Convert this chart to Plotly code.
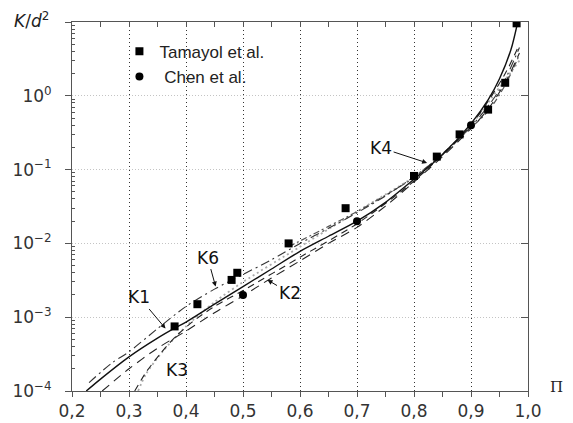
import plotly.graph_objects as go

# ---- data ----
tam_x = [0.38, 0.42, 0.48, 0.49, 0.58, 0.68, 0.80, 0.84, 0.88, 0.93, 0.96, 0.98]
tam_y = [7.5e-4, 1.5e-3, 3.2e-3, 4.0e-3, 1.0e-2, 3.0e-2, 8.2e-2, 0.15, 0.30, 0.65, 1.5, 9.6]
chen_x = [0.50, 0.70, 0.90]
chen_y = [2.0e-3, 2.0e-2, 0.40]

k1_x = [0.225, 0.25, 0.30, 0.35, 0.38, 0.40, 0.45, 0.50, 0.55, 0.60, 0.65, 0.70, 0.75, 0.80, 0.85, 0.90, 0.93, 0.95, 0.97, 0.982]
k1_y = [1e-4, 1.45e-4, 2.9e-4, 5.2e-4, 7.1e-4, 8.6e-4, 1.5e-3, 2.6e-3, 4.5e-3, 7.8e-3, 1.25e-2, 2.0e-2, 3.6e-2, 7.4e-2, 0.16, 0.42, 0.88, 1.7, 4.2, 10.0]

k2_x = [0.253, 0.30, 0.35, 0.40, 0.45, 0.50, 0.55, 0.60, 0.65, 0.70, 0.75, 0.80, 0.85, 0.90, 0.93, 0.96, 0.985]
k2_y = [1e-4, 2.0e-4, 3.8e-4, 6.5e-4, 1.15e-3, 1.95e-3, 3.4e-3, 5.8e-3, 1.0e-2, 1.65e-2, 3.2e-2, 6.8e-2, 0.15, 0.36, 0.66, 1.5, 3.8]

k3_x = [0.31, 0.33, 0.355, 0.38, 0.41, 0.45, 0.50, 0.60, 0.70, 0.80, 0.90, 0.96, 0.985]
k3_y = [1e-4, 1.8e-4, 3.2e-4, 5.3e-4, 8.5e-4, 1.4e-3, 2.3e-3, 6.5e-3, 1.85e-2, 7.0e-2, 0.40, 2.0, 5.0]

k5_x = [0.316, 0.33, 0.36, 0.40, 0.45, 0.50, 0.60, 0.70, 0.80, 0.85, 0.90, 0.95, 0.985]
k5_y = [1e-4, 1.7e-4, 3.5e-4, 7.5e-4, 1.6e-3, 3.0e-3, 9.0e-3, 2.7e-2, 8.0e-2, 0.16, 0.40, 1.3, 3.0]

k4_x = [0.58, 0.65, 0.70, 0.75, 0.80, 0.84, 0.88, 0.93, 0.96, 0.985]
k4_y = [9.0e-3, 1.7e-2, 2.7e-2, 4.5e-2, 7.8e-2, 0.14, 0.27, 0.62, 1.4, 3.6]

k6_x = [0.23, 0.27, 0.30, 0.35, 0.40, 0.45, 0.50, 0.55, 0.60, 0.65, 0.70, 0.75, 0.80, 0.85, 0.90, 0.95, 0.985]
k6_y = [1.3e-4, 2.4e-4, 3.4e-4, 7.0e-4, 1.4e-3, 2.4e-3, 3.8e-3, 6.0e-3, 1.0e-2, 1.6e-2, 2.6e-2, 4.4e-2, 8.0e-2, 0.16, 0.38, 1.2, 4.5]

x_ticks = [0.2, 0.3, 0.4, 0.5, 0.6, 0.7, 0.8, 0.9, 1.0]
x_labels = ["0,2", "0,3", "0,4", "0,5", "0,6", "0,7", "0,8", "0,9", "1,0"]
x_minor = [0.25, 0.35, 0.45, 0.55, 0.65, 0.75, 0.85, 0.95]
y_ticks = [1e-4, 1e-3, 1e-2, 1e-1, 1e0, 1e1]
y_labels = ["10<sup>−4</sup>", "10<sup>−3</sup>", "10<sup>−2</sup>", "10<sup>−1</sup>", "10<sup>0</sup>", ""]
y_minor = [m * 10.0 ** e for e in range(-4, 1) for m in range(2, 10)]

labels = ["K1", "K2", "K3", "K4", "K6"]

fig = go.Figure()

def curve(x, y, color, dash, width=1.3):
    fig.add_trace(go.Scatter(x=x, y=y, mode="lines", line=dict(color=color, dash=dash, width=width, shape="spline", smoothing=0.8),
                             showlegend=False, hoverinfo="skip"))

curve(k5_x, k5_y, "#aaaaaa", "2px,3px", 1.8)
curve(k4_x, k4_y, "#555555", "6px,3px,2px,3px", 1.2)
curve(k6_x, k6_y, "#333333", "9px,4px,2px,4px", 1.1)
curve(k3_x, k3_y, "#222222", "7px,5px", 1.1)
curve(k2_x, k2_y, "#222222", "9px,6px", 1.1)
curve(k1_x, k1_y, "#111111", "solid", 1.4)

fig.add_trace(go.Scatter(x=tam_x, y=tam_y, mode="markers", name="Tamayol et al.",
                         marker=dict(symbol="square", size=8, color="black")))
fig.add_trace(go.Scatter(x=chen_x, y=chen_y, mode="markers", name="\u00a0Chen et al.",
                         marker=dict(symbol="circle", size=8, color="black")))
# invisible trace to activate top/right axes
fig.add_trace(go.Scatter(x=[0.2], y=[1e-4], xaxis="x2", yaxis="y2", mode="markers",
                         marker=dict(opacity=0), showlegend=False, hoverinfo="skip"))

tickfont = dict(family="DejaVu Sans", size=17, color="#333333")
# page body has an 8px margin: figure is 565x415 and sits at (8, 8)
fig.update_layout(
    width=565, height=415,
    margin=dict(l=63.5, r=45, t=14, b=32, autoexpand=False),
    plot_bgcolor="white", paper_bgcolor="white",
    xaxis=dict(range=[0.2, 1.0], tickvals=x_ticks, ticktext=x_labels, ticks="outside", ticklen=5,
               tickcolor="#555", showline=True, linecolor="#555", linewidth=1, automargin=False,
               showgrid=True, gridcolor="#333", griddash="1px,3px", gridwidth=1,
               minor=dict(tickvals=x_minor, ticks="outside", ticklen=5, tickcolor="#555", showgrid=False),
               tickfont=tickfont, zeroline=False),
    xaxis2=dict(range=[0.2, 1.0], overlaying="x", side="top", tickvals=x_ticks, showticklabels=False,
                ticks="inside", ticklen=5, tickcolor="#555", showline=True, linecolor="#555",
                showgrid=False, zeroline=False, automargin=False,
                minor=dict(tickvals=x_minor, ticks="inside", ticklen=5, tickcolor="#555", showgrid=False)),
    yaxis=dict(type="log", range=[-4, 1], tickvals=y_ticks, ticktext=y_labels, ticks="outside", ticklen=6,
               tickcolor="#555", showline=True, linecolor="#555", linewidth=1, automargin=False,
               showgrid=True, gridcolor="#c4c4c4", griddash="1px,2px", gridwidth=1,
               ticklabelstandoff=10,
               minor=dict(tickvals=y_minor, ticks="inside", ticklen=3, tickcolor="#555", showgrid=False),
               tickfont=tickfont, zeroline=False),
    yaxis2=dict(type="log", range=[-4, 1], overlaying="y", side="right", tickvals=y_ticks,
                showticklabels=False, ticks="inside", ticklen=7, tickcolor="#555", showline=True,
                linecolor="#555", showgrid=False, zeroline=False, automargin=False),
    legend=dict(x=0.104, y=0.968, xanchor="left", yanchor="top", bgcolor="rgba(0,0,0,0)",
                font=dict(family="Liberation Sans", size=17, color="#222"), tracegroupgap=0),
    showlegend=True,
)

lab_font = dict(family="DejaVu Sans", size=17, color="#111")
# (label, tip x, tip log10 y, ax, ay)
ann = [
    (labels[0], 0.364, -3.153, -26, -31),
    (labels[1], 0.543, -2.495, 22, 13),
    (labels[2], 0.355, -3.504, 17, 16),
    (labels[3], 0.823, -0.909, -46, -15),
    (labels[4], 0.452, -2.585, -8, -29),
]
for t, x, ly, ax, ay in ann:
    fig.add_annotation(x=x, y=ly, xref="x", yref="y", text=t, showarrow=True, ax=ax, ay=ay,
                       arrowhead=2, arrowsize=1, arrowwidth=1, arrowcolor="#111", font=lab_font)

fig.add_annotation(x=-0.132, y=1.006, xref="paper", yref="paper", xanchor="left", yanchor="middle",
                   text="<i>K</i>/<i>d</i><sup>2</sup>", showarrow=False,
                   font=dict(family="DejaVu Sans", size=17, color="#222"))
fig.add_annotation(x=1.043, y=0.012, xref="paper", yref="paper", xanchor="left", yanchor="middle",
                   text="Π", showarrow=False, font=dict(family="DejaVu Serif", size=15, color="#222"))

fig.write_html("out.html")
